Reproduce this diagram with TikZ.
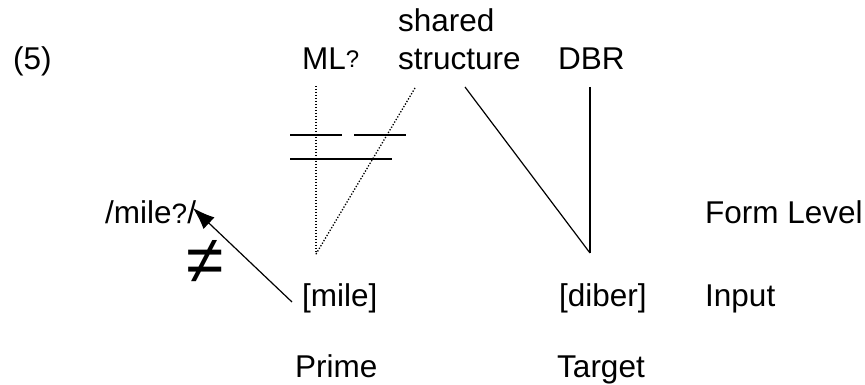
\documentclass[tikz,border=0pt]{standalone}
\usepackage{fontspec}
\setmainfont{Liberation Sans}
\usetikzlibrary{arrows.meta}

% small glottal stop mark
\newcommand{\gstop}[1]{{\fontsize{#1}{#1}\selectfont ?}}

\begin{document}
\begin{tikzpicture}[x=1pt,y=-1pt,
  lbl/.style={inner sep=0pt, anchor=base west, font=\fontsize{31.5}{37}\selectfont},
  dotline/.style={line width=1.3pt, dash pattern=on 1.3pt off 1.7pt},
  solidline/.style={line width=1.2pt},
  barline/.style={line width=1.8pt}]

\useasboundingbox (0,0) rectangle (865,385);

% Labels
\node[lbl] (num) at (13,70) {(5)};
\node[lbl] (ml) at (302,70) {ML\raisebox{2pt}{\gstop{24}}};
\node[lbl] (shared) at (398,32) {shared};
\node[lbl] (struct) at (398,70) {structure};
\node[lbl] (dbr) at (558,70) {DBR};
\node[lbl] (form) at (105,223) {/mile\gstop{28}/};
\node[lbl] (level) at (705,223) {Form Level};
\node[lbl] (mile) at (302,306) {[mile]};
\node[lbl] (diber) at (559,306) {[diber]};
\node[lbl] (input) at (705,306) {Input};
\node[lbl] (prime) at (295,377) {Prime};
\node[lbl] (target) at (557,377) {Target};

% Ungleich
\node[inner sep=0pt, font=\fontsize{68}{68}\selectfont] (neq) at (205,262) {≠};

% Endpunkte
\coordinate (mltop) at (316,86);
\coordinate (mlfoot) at (316,254);
\coordinate (sstop) at (415,88);
\coordinate (strtop) at (465,87);
\coordinate (dbrtop) at (590,87);
\coordinate (dbrfoot) at (590,253);
\coordinate (miletail) at (292,302);
\coordinate (formtip) at (193,208);

% Dotted links
\draw[dotline] (mltop) -- (mlfoot);
\draw[dotline] (sstop) -- (mlfoot);

% Solid links
\draw[solidline] (strtop) -- (dbrfoot);
\draw[solidline] (dbrtop) -- (dbrfoot);

% Bars
\draw[barline] (290,135) -- (342,135);
\draw[barline] (354,135) -- (406,135);
\draw[barline] (290,159) -- (392,159);

% Arrow
\draw[solidline, -{Latex[length=22pt,width=16pt]}] (miletail) -- (formtip);

\end{tikzpicture}
\end{document}
